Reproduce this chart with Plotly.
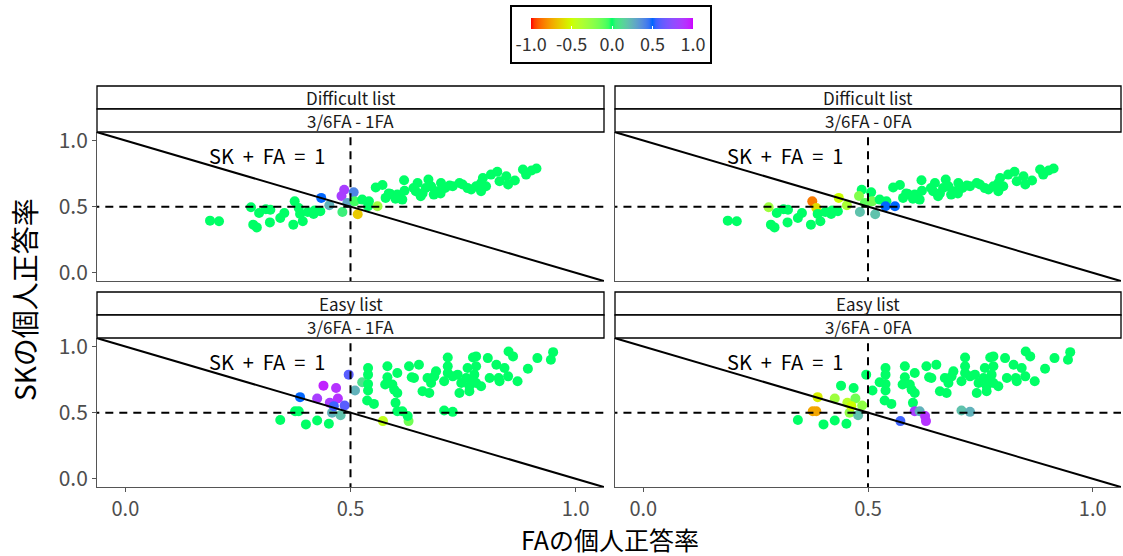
import numpy as np
import plotly.graph_objects as go

# ---------------- data ----------------
# Difficult list (top row): FA rate, SK rate, colour value for "3/6FA - 1FA" and "3/6FA - 0FA"
diff_fa = [0.188, 0.208, 0.279, 0.297, 0.322, 0.284, 0.292, 0.321, 0.344, 0.353,
           0.376, 0.385, 0.388, 0.373, 0.394, 0.418, 0.433, 0.435, 0.453, 0.482,
           0.486, 0.480, 0.507, 0.493, 0.516, 0.509, 0.526, 0.541, 0.539, 0.560,
           0.556, 0.571, 0.578, 0.589, 0.604, 0.615, 0.619, 0.640, 0.645, 0.649,
           0.656, 0.667, 0.673, 0.679, 0.685, 0.693, 0.701, 0.710, 0.727, 0.742,
           0.749, 0.768, 0.779, 0.790, 0.794, 0.790, 0.801, 0.812, 0.826, 0.831,
           0.846, 0.850, 0.865, 0.883, 0.890, 0.913, 0.902, 0.420, 0.405, 0.312,
           0.620, 0.700, 0.760, 0.720, 0.660, 0.585, 0.600]
diff_sk = [0.394, 0.389, 0.495, 0.452, 0.477, 0.364, 0.343, 0.381, 0.414, 0.452,
           0.540, 0.490, 0.445, 0.364, 0.389, 0.445, 0.465, 0.566, 0.510, 0.460,
           0.628, 0.580, 0.608, 0.528, 0.442, 0.540, 0.553, 0.540, 0.503, 0.503,
           0.644, 0.664, 0.566, 0.596, 0.591, 0.553, 0.699, 0.641, 0.616, 0.679,
           0.578, 0.641, 0.705, 0.654, 0.591, 0.616, 0.679, 0.641, 0.654, 0.679,
           0.667, 0.629, 0.654, 0.679, 0.717, 0.616, 0.654, 0.742, 0.763, 0.692,
           0.730, 0.667, 0.697, 0.780, 0.742, 0.788, 0.773, 0.470, 0.460, 0.480,
           0.620, 0.600, 0.640, 0.660, 0.600, 0.600, 0.560]
diff_1fa = [0, 0, 0, 0, 0, 0, 0, 0, 0, 0,
            0, 0, 0, 0, 0, 0, 0, 0.5, 0.25, 0.05,
            0.85, 0.85, 0.4, 0.3, -0.65, -0.05, 0, 0, 0, -0.3,
            0, 0, 0, 0, 0, 0, 0, 0, 0, 0,
            0, 0, 0, 0, 0, 0, 0, 0, 0, 0,
            0, 0, 0, 0, 0, 0, 0, 0, 0, 0,
            0, 0, 0, 0, 0, 0, 0, 0, 0, 0,
            0, 0, 0, 0, 0, 0, 0]
diff_0fa = [0, 0, -0.3, 0, 0, 0, 0, 0, 0, 0,
            -0.85, -0.6, 0, 0, 0, 0, 0, -0.5, -0.35, 0.2,
            0, -0.2, 0, -0.1, 0.2, -0.15, 0, 0, 0.5, 0.5,
            0, 0, 0, 0, 0, 0, 0, 0, 0, 0,
            0, 0, 0, 0, 0, 0, 0, 0, 0, 0,
            0, 0, 0, 0, 0, 0, 0, 0, 0, 0,
            0, 0, 0, 0, 0, 0, 0, 0, 0, 0,
            0, 0, 0, 0, 0, 0, 0]

# Easy list (bottom row)
easy_fa = [0.344, 0.377, 0.385, 0.388, 0.401, 0.426, 0.426, 0.440, 0.454, 0.452,
           0.459, 0.468, 0.472, 0.478, 0.487, 0.463, 0.496, 0.510, 0.526, 0.539,
           0.539, 0.539, 0.539, 0.537, 0.552, 0.572, 0.582, 0.582, 0.577, 0.593,
           0.604, 0.597, 0.604, 0.600, 0.604, 0.615, 0.630, 0.636, 0.629, 0.627,
           0.652, 0.641, 0.671, 0.679, 0.660, 0.675, 0.690, 0.686, 0.708, 0.716,
           0.716, 0.716, 0.727, 0.738, 0.746, 0.742, 0.757, 0.760, 0.764, 0.772,
           0.779, 0.779, 0.775, 0.772, 0.779, 0.790, 0.764, 0.805, 0.809, 0.824,
           0.829, 0.831, 0.842, 0.850, 0.851, 0.861, 0.871, 0.894, 0.915, 0.950,
           0.945, 0.708, 0.727]
easy_sk = [0.444, 0.511, 0.511, 0.617, 0.411, 0.441, 0.607, 0.704, 0.574, 0.416,
           0.499, 0.686, 0.607, 0.481, 0.554, 0.549, 0.787, 0.667, 0.729, 0.837,
           0.787, 0.717, 0.667, 0.592, 0.566, 0.436, 0.850, 0.767, 0.712, 0.712,
           0.799, 0.674, 0.649, 0.574, 0.511, 0.511, 0.850, 0.767, 0.436, 0.475,
           0.862, 0.762, 0.762, 0.724, 0.662, 0.649, 0.812, 0.774, 0.737, 0.917,
           0.850, 0.799, 0.774, 0.787, 0.724, 0.649, 0.762, 0.837, 0.699, 0.917,
           0.925, 0.850, 0.787, 0.737, 0.724, 0.699, 0.662, 0.912, 0.762, 0.862,
           0.762, 0.737, 0.837, 0.774, 0.962, 0.925, 0.737, 0.832, 0.912, 0.957,
           0.900, 0.516, 0.506]
easy_1fa = [0, 0, 0, 0.5, 0, 0, 0.85, 0.95, 0.85, 0,
            0.25, 0.9, 0.9, 0.2, 0.6, 0.55, 0.6, 0.25, 0.1, 0,
            0, 0, 0, 0, 0, -0.45, 0, 0, 0, 0,
            0, 0, 0, 0, 0, 0, 0, 0, -0.15, 0,
            0, 0, 0, 0, 0, 0, 0, 0, 0, 0,
            0, 0, 0, 0, 0, 0, 0, 0, 0, 0,
            0, 0, 0, 0, 0, 0, 0, 0, 0, 0,
            0, 0, 0, 0, 0, 0, 0, 0, 0, 0,
            0, 0, 0]
easy_0fa = [0, -0.75, -0.75, -0.55, 0, 0, -0.3, 0, -0.4, 0,
            -0.25, 0, -0.15, 0.2, -0.25, -0.5, 0, 0, 0, 0,
            0, 0, 0, 0, 0, 0.55, 0, 0, 0, 0,
            0, 0, 0, 0, 0.85, 0.25, 0, 0, 0.9, 0.9,
            0, 0, 0, 0, 0, 0, 0, 0, 0, 0,
            0, 0, 0, 0, 0, 0, 0, 0, 0, 0,
            0, 0, 0, 0, 0, 0, 0, 0, 0, 0,
            0, 0, 0, 0, 0, 0, 0, 0, 0, 0,
            0, 0.2, 0.25]

row_labels = ["Difficult list", "Easy list"]
col_labels = ["3/6FA - 1FA", "3/6FA - 0FA"]
tick_vals = [0.0, 0.5, 1.0]
tick_text = ["0.0", "0.5", "1.0"]
cbar_vals = [-1.0, -0.5, 0.0, 0.5, 1.0]
cbar_text = ["-1.0", "-0.5", "0.0", "0.5", "1.0"]
anchor_colours = ["#FF0000", "#CCFF00", "#00FF66", "#0066FF", "#CC00FF"]  # rainbow(5)
line_label = "SK\u00a0\u00a0+\u00a0\u00a0FA\u00a0\u00a0=\u00a0\u00a01"

# ------------- colour scale (Lab interpolation like ggplot) -------------
def hex_to_rgb(h):
    h = h.lstrip("#")
    return np.array([int(h[i:i + 2], 16) / 255 for i in (0, 2, 4)])

def srgb_to_lin(c):
    return np.where(c <= 0.04045, c / 12.92, ((c + 0.055) / 1.055) ** 2.4)

def lin_to_srgb(c):
    c = np.clip(c, 0, 1)
    return np.where(c <= 0.0031308, 12.92 * c, 1.055 * c ** (1 / 2.4) - 0.055)

M = np.array([[0.4124564, 0.3575761, 0.1804375],
              [0.2126729, 0.7151522, 0.0721750],
              [0.0193339, 0.1191920, 0.9503041]])
Minv = np.linalg.inv(M)
WP = np.array([0.95047, 1.0, 1.08883])

def f(t):
    return np.where(t > 216 / 24389, np.cbrt(t), (24389 / 27 * t + 16) / 116)

def finv(t):
    return np.where(t ** 3 > 216 / 24389, t ** 3, (116 * t - 16) / (24389 / 27))

def rgb_to_lab(rgb):
    xyz = M @ srgb_to_lin(rgb) / WP
    fx, fy, fz = f(xyz)
    return np.array([116 * fy - 16, 500 * (fx - fy), 200 * (fy - fz)])

def lab_to_rgb(lab):
    L, a, b = lab
    fy = (L + 16) / 116
    fx = fy + a / 500
    fz = fy - b / 200
    xyz = np.array([finv(fx), finv(fy), finv(fz)]) * WP
    return lin_to_srgb(Minv @ xyz)

labs = [rgb_to_lab(hex_to_rgb(c)) for c in anchor_colours]
scale = []
n_steps = 48
for i in range(n_steps + 1):
    t = i / n_steps
    seg = min(int(t * 4), 3)
    u = t * 4 - seg
    lab = labs[seg] * (1 - u) + labs[seg + 1] * u
    r, g, b = (np.clip(lab_to_rgb(lab), 0, 1) * 255).round().astype(int)
    scale.append([t, f"rgb({r},{g},{b})"])

# ------------- layout geometry -------------
W, H = 1123, 556
def px(x):
    return x / W
def py(y):
    return 1 - y / H

col_x = [(97, 604), (615, 1121)]
row_y = [(132, 281), (338, 487)]
strip_rows = [(86, 109, 132), (292, 315, 338)]
xr = [-0.063, 1.063]
yr = [-0.062, 1.064]

fig = go.Figure()
panels = [
    (0, 0, diff_fa, diff_sk, diff_1fa),
    (0, 1, diff_fa, diff_sk, diff_0fa),
    (1, 0, easy_fa, easy_sk, easy_1fa),
    (1, 1, easy_fa, easy_sk, easy_0fa),
]
font_family = "Noto Sans CJK JP"
dash = "8px,6px"
shapes = []
annotations = []
for k, (r, c, xs, ys, vals) in enumerate(panels):
    idx = k + 1
    xa = "x" if idx == 1 else f"x{idx}"
    ya = "y" if idx == 1 else f"y{idx}"
    fig.add_trace(go.Scatter(
        x=xs, y=ys, mode="markers", xaxis=xa, yaxis=ya,
        marker=dict(size=10, color=vals, coloraxis="coloraxis", line=dict(width=0)),
        showlegend=False, hoverinfo="x+y"))
    # reference lines
    fig.add_trace(go.Scatter(x=[-0.2, 1.2], y=[1.2, -0.2], mode="lines", xaxis=xa, yaxis=ya,
                             line=dict(color="black", width=2), showlegend=False, hoverinfo="skip"))
    fig.add_trace(go.Scatter(x=[0.5, 0.5], y=[-0.2, 1.2], mode="lines", xaxis=xa, yaxis=ya,
                             line=dict(color="black", width=2, dash=dash), showlegend=False, hoverinfo="skip"))
    fig.add_trace(go.Scatter(x=[-0.2, 1.2], y=[0.5, 0.5], mode="lines", xaxis=xa, yaxis=ya,
                             line=dict(color="black", width=2, dash=dash), showlegend=False, hoverinfo="skip"))
    x0, x1 = col_x[c]
    y0, y1 = row_y[r]
    fig.layout[("xaxis" if idx == 1 else f"xaxis{idx}")] = dict(
        domain=[px(x0), px(x1)], range=xr, anchor=ya, showgrid=False, zeroline=False,
        showline=True, linecolor="#555", linewidth=1,
        tickvals=tick_vals, ticktext=tick_text, showticklabels=(r == 1),
        ticks="outside" if r == 1 else "", ticklen=4, tickcolor="#555",
        tickfont=dict(family=font_family, size=20, color="#4d4d4d"), automargin=False)
    fig.layout[("yaxis" if idx == 1 else f"yaxis{idx}")] = dict(
        domain=[py(y1), py(y0)], range=yr, anchor=xa, showgrid=False, zeroline=False,
        showline=True, linecolor="#555", linewidth=1,
        tickvals=tick_vals, ticktext=tick_text, showticklabels=(c == 0),
        ticks="outside" if c == 0 else "", ticklen=4, tickcolor="#555",
        tickfont=dict(family=font_family, size=21, color="#4d4d4d"), automargin=False)
    annotations.append(dict(x=0.315, y=0.89, xref=xa, yref=ya, text=line_label,
                            xanchor="center", yanchor="middle",
                            showarrow=False, font=dict(family=font_family, size=20, color="black")))

# strips
for r in range(2):
    s0, s1, s2 = strip_rows[r]
    for c in range(2):
        x0, x1 = col_x[c]
        for (a, b, label) in [(s0, s1, row_labels[r]), (s1, s2, col_labels[c])]:
            shapes.append(dict(type="rect", xref="paper", yref="paper",
                               x0=px(x0), x1=px(x1), y0=py(b), y1=py(a),
                               line=dict(color="black", width=1.3), fillcolor="white"))
            annotations.append(dict(x=px((x0 + x1) / 2), y=py((a + b) / 2), xref="paper", yref="paper",
                                    text=label, showarrow=False, xanchor="center", yanchor="middle",
                                    font=dict(family=font_family, size=17, color="#1a1a1a")))

# legend box
shapes.append(dict(type="rect", xref="paper", yref="paper", x0=px(511), x1=px(711),
                   y0=py(63), y1=py(6), line=dict(color="black", width=2)))

# axis titles
annotations.append(dict(x=px(610), y=py(539), xref="paper", yref="paper", text="FAの個人正答率",
                        xanchor="center", yanchor="middle",
                        showarrow=False, font=dict(family=font_family, size=25, color="black")))
annotations.append(dict(x=px(24), y=py(300), xref="paper", yref="paper", text="SKの個人正答率",
                        textangle=-90, showarrow=False, xanchor="center", yanchor="middle",
                        font=dict(family=font_family, size=28, color="black")))

fig.update_layout(
    width=W, height=H, margin=dict(l=0, r=0, t=0, b=0, autoexpand=False),
    paper_bgcolor="white", plot_bgcolor="white",
    shapes=shapes, annotations=annotations,
    coloraxis=dict(
        colorscale=scale, cmin=-1, cmax=1,
        colorbar=dict(orientation="h", x=px(612), xanchor="center", y=py(18), yanchor="top",
                      len=162, lenmode="pixels", thickness=11, thicknessmode="pixels",
                      xpad=0, ypad=0, outlinewidth=0,
                      tickvals=cbar_vals, ticktext=cbar_text, ticks="inside", ticklen=3,
                      tickcolor="white", tickfont=dict(family=font_family, size=18, color="#333"))),
)

fig.write_html("out.html", config={"displayModeBar": False},
               post_script="document.body.style.margin='0px';document.body.style.overflow='hidden';")
